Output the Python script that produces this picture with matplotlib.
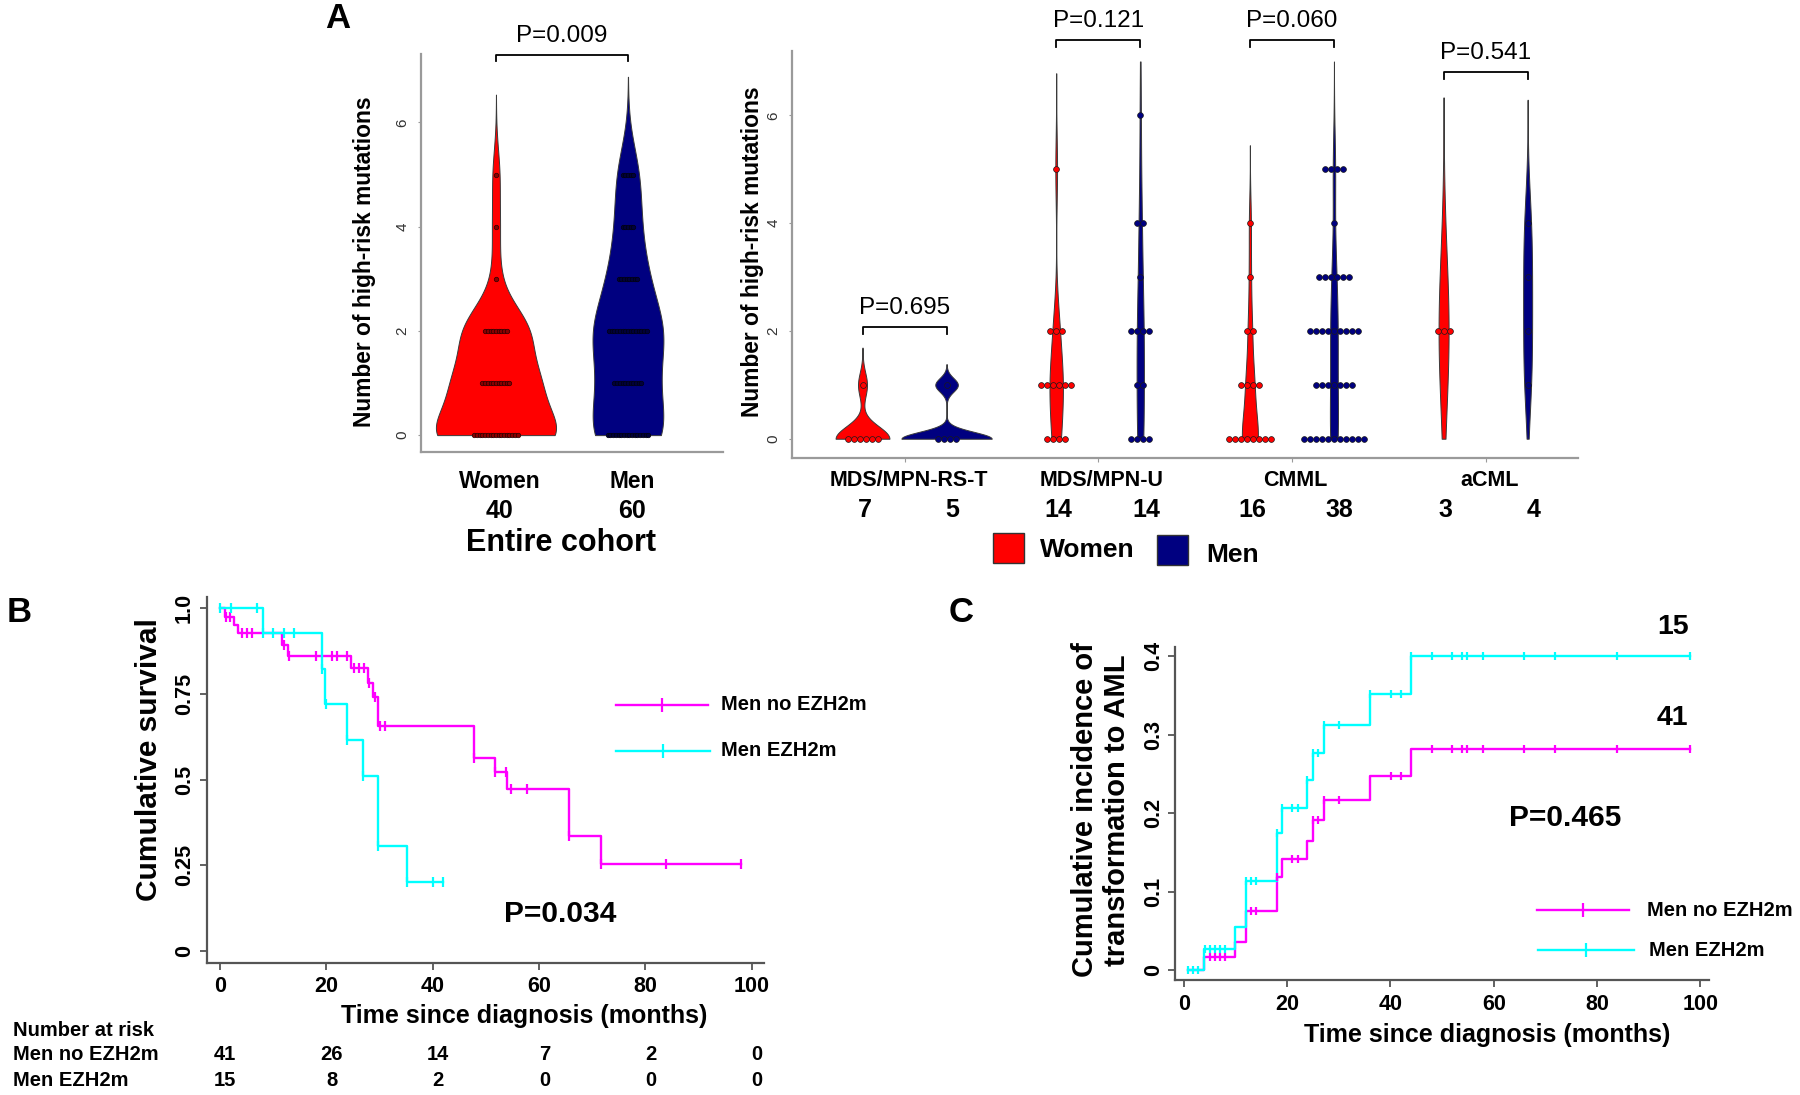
import numpy as np
import matplotlib
matplotlib.use("Agg")
import matplotlib.pyplot as plt
import matplotlib.transforms as mtransforms
from matplotlib.patches import Rectangle
from matplotlib.lines import Line2D

plt.rcParams['font.family'] = ['Liberation Sans', 'DejaVu Sans']

# ---- A: number of high-risk mutations, counts per level ----
mut_levels = [0, 1, 2, 3, 4, 5, 6]
cohort_women = [17, 11, 9, 1, 1, 1, 0]
cohort_men = [16, 11, 15, 8, 5, 5, 0]
cohort_labels = ['Women', 'Men']
cohort_n = [40, 60]
p_cohort = 'P=0.009'

subtypes = ['MDS/MPN-RS-T', 'MDS/MPN-U', 'CMML', 'aCML']
sub_women = [[6, 1, 0, 0, 0, 0, 0],
             [4, 6, 3, 0, 0, 1, 0],
             [8, 4, 2, 1, 1, 0, 0],
             [0, 0, 3, 0, 0, 0, 0]]
sub_men = [[4, 1, 0, 0, 0, 0, 0],
           [4, 2, 4, 1, 2, 0, 1],
           [11, 7, 9, 6, 1, 4, 0],
           [0, 1, 1, 1, 1, 0, 0]]
sub_n_women = [7, 14, 16, 3]
sub_n_men = [5, 14, 38, 4]
p_sub = ['P=0.695', 'P=0.121', 'P=0.060', 'P=0.541']

# ---- B: overall survival (months) ----
os_no_t = [1.0, 2.7, 3.4, 11.6, 12.7, 24.7, 27.9, 28.8, 29.8, 47.7, 51.7, 53.9, 65.7, 71.7]
os_no_s = [0.976, 0.951, 0.927, 0.893, 0.861, 0.825, 0.783, 0.740, 0.657, 0.564, 0.521, 0.471, 0.336, 0.252]
os_no_cens = [1.1, 1.9, 4.1, 5.1, 6.0, 12.1, 13.0, 18.0, 21.0, 22.0, 23.9, 25.2, 26.1, 27.0,
              28.0, 29.1, 30.0, 31.0, 47.7, 51.7, 53.8, 54.8, 57.8, 65.7, 71.7, 83.8, 98.0]
os_ezh_t = [8.0, 19.1, 19.7, 23.9, 26.8, 29.8, 35.1]
os_ezh_s = [0.927, 0.822, 0.720, 0.615, 0.510, 0.307, 0.202]
os_ezh_cens = [0.0, 2.0, 6.9, 8.1, 10.0, 12.1, 14.0, 19.1, 19.9, 23.9, 26.8, 29.8, 35.1, 40.0, 42.0]
risk_times = [0, 20, 40, 60, 80, 100]
risk_no = [41, 26, 14, 7, 2, 0]
risk_ezh = [15, 8, 2, 0, 0, 0]
p_os = 'P=0.034'

# ---- C: cumulative incidence of AML transformation ----
cif_start = 0.8
cif_t = [3.9, 9.9, 12.0, 18.1, 18.9, 23.9, 24.9, 27.1, 36.0, 43.9]
cif_no_v = [0.017, 0.036, 0.075, 0.118, 0.141, 0.165, 0.191, 0.217, 0.247, 0.282]
cif_ezh_v = [0.027, 0.055, 0.113, 0.175, 0.207, 0.242, 0.277, 0.312, 0.352, 0.400]
cif_no_cens = [5.0, 6.0, 7.0, 7.9, 12.9, 14.0, 18.1, 20.9, 22.0, 24.9, 26.0, 27.1, 30.1, 40.1,
               42.1, 48.1, 52.0, 53.8, 54.8, 58.0, 65.9, 71.9, 83.9, 98.0]
cif_ezh_cens = [0.8, 1.8, 2.8, 4.1, 5.0, 6.0, 7.0, 7.9, 12.0, 12.9, 14.0, 18.1, 18.9, 20.9, 22.0,
                23.9, 24.9, 26.0, 27.1, 30.1, 36.0, 40.1, 42.1, 43.9, 48.1, 52.0, 53.8, 54.8,
                58.0, 65.9, 71.9, 83.9, 98.0]
cif_n = [41, 15]
p_cif = 'P=0.465'

groups = ['Men no EZH2m', 'Men EZH2m']

RED, NAVY = '#ff0000', '#000080'
MAG, CYAN = '#ff00ff', '#00ffff'

W, H = 1800, 1095
fig = plt.figure(figsize=(W / 100, H / 100), dpi=100)


def place(x0, y0, x1, y1):
    return fig.add_axes([x0 / W, 1 - y1 / H, (x1 - x0) / W, (y1 - y0) / H])


def fy(y):
    return 1 - y / H


def bw_nrd0(x):
    hi = np.std(x, ddof=1)
    q25, q75 = np.percentile(x, [25, 75])
    lo = min(hi, (q75 - q25) / 1.34)
    if lo == 0:
        lo = hi or abs(x[0]) or 1.0
    return 0.9 * lo * len(x) ** -0.2


def density(x, adjust=1.0, top=7.0):
    bw = bw_nrd0(x) * adjust
    y = np.linspace(0, min(x.max() + 3 * bw, top), 400)
    d = np.exp(-0.5 * ((y[:, None] - x[None, :]) / bw) ** 2).sum(1)
    return y, d / (len(x) * bw * np.sqrt(2 * np.pi))


def expand(counts):
    return np.repeat(mut_levels, counts).astype(float)


def draw_violins(ax, xs, samples, colors, max_half, dot_px, dot_d, faces, edges, adjust=None):
    adjust = adjust or [1.0] * len(xs)
    dens = [density(s, a) for s, a in zip(samples, adjust)]
    dmax = max(d.max() for _, d in dens)
    unit_px = ax.get_position().width * W / np.diff(ax.get_xlim())[0]
    step = dot_px / unit_px
    for x, s, (y, d), c, fc, ec in zip(xs, samples, dens, colors, faces, edges):
        half = d / dmax * max_half
        ax.fill_betweenx(y, x - half, x + half, facecolor=c, edgecolor='#3a3a3a', lw=0.7, zorder=2)
        levels, counts = np.unique(s, return_counts=True)
        for lev, cnt in zip(levels, counts):
            dx = (np.arange(cnt) - (cnt - 1) / 2) * step
            ax.scatter(x + dx, np.full(cnt, lev), s=(dot_d * 0.72) ** 2, facecolor=fc,
                       edgecolor=ec, linewidth=0.5, zorder=3)


def bracket(ax, x1, x2, y, text, leg=0.13):
    ax.plot([x1, x1, x2, x2], [y - leg, y, y, y - leg], color='black', lw=1.3, clip_on=False)
    ax.text((x1 + x2) / 2, y + 0.36, text, ha='center', va='center', fontsize=17.5, clip_on=False)


def style_a(ax, label_xy):
    for sp in ('top', 'right'):
        ax.spines[sp].set_visible(False)
    for sp in ('left', 'bottom'):
        ax.spines[sp].set_color('#9a9a9a')
        ax.spines[sp].set_linewidth(1.6)
    ax.set_yticks([0, 2, 4, 6])
    ax.tick_params(axis='y', length=2, color='#9a9a9a', labelsize=11, labelcolor='#333333',
                   labelrotation=90, pad=6.5)
    for lab in ax.get_yticklabels():
        lab.set_va('center')
    ax.set_ylabel('Number of high-risk mutations', fontsize=16.4, fontweight='bold')
    ax.yaxis.set_label_coords(label_xy[0] / W, fy(label_xy[1]), transform=fig.transFigure)
    ax.yaxis.label.set_va('center')


# ---------------- Panel A, entire cohort ----------------
axL = place(421, 53.6, 723, 451.8)
axL.set_xlim(0.432, 2.72)
axL.set_ylim(-0.32, 7.32)
cohort_x = [1, 2]
draw_violins(axL, cohort_x, [expand(cohort_women), expand(cohort_men)], [RED, NAVY],
             0.455, 2.7, 4.5, ['#8a0000', '#00003a'], ['#2a0000', '#000010'])
style_a(axL, (364, 262))
axL.set_xticks([])
bracket(axL, cohort_x[0], cohort_x[1], 7.29, p_cohort, leg=0.11)
tL = mtransforms.blended_transform_factory(axL.transData, fig.transFigure)
for x, lab, n in zip(cohort_x, cohort_labels, cohort_n):
    axL.text(x + 0.03, fy(482), lab, transform=tL, ha='center', va='center',
             fontsize=16.4, fontweight='bold')
    axL.text(x + 0.03, fy(511), str(n), transform=tL, ha='center', va='center',
             fontsize=18, fontweight='bold')
fig.text(561 / W, fy(543), 'Entire cohort', ha='center', va='center', fontsize=22, fontweight='bold')

# ---------------- Panel A, by subtype ----------------
axR = place(792, 50.7, 1578, 457.6)
axR.set_xlim(-0.581, 3.477)
axR.set_ylim(-0.35, 7.2)
pair_x = np.arange(len(subtypes))
dodge = 0.217
xs, samples, cols, adj = [], [], [], []
for i, px in enumerate(pair_x):
    xs += [px - dodge, px + dodge]
    samples += [expand(sub_women[i]), expand(sub_men[i])]
    cols += [RED, NAVY]
    adj += [1.0, 0.44 if i == 0 else 1.0]
draw_violins(axR, xs, samples, cols, 0.233, 6.0, 5.8, cols, ['#1a1a1a'] * len(xs), adj)
style_a(axR, (753, 252))
axR.set_xticks(pair_x, [''] * len(pair_x))
axR.tick_params(axis='x', length=3, color='#9a9a9a')
bracket_y = [2.075, 7.4, 7.4, 6.8]
for px, p, by in zip(pair_x, p_sub, bracket_y):
    bracket(axR, px - dodge, px + dodge, by, p)
tR = mtransforms.blended_transform_factory(axR.transData, fig.transFigure)
for px, name, nw, nm in zip(pair_x, subtypes, sub_n_women, sub_n_men):
    axR.text(px + 0.02, fy(480), name, transform=tR, ha='center', va='center', fontsize=15.5,
             fontweight='bold')
    axR.text(px - dodge + 0.01, fy(510), str(nw), transform=tR, ha='center', va='center',
             fontsize=18, fontweight='bold')
    axR.text(px + dodge + 0.03, fy(510), str(nm), transform=tR, ha='center', va='center',
             fontsize=18, fontweight='bold')

for (x0, y0, c, lab, tx, ty) in [(993, 533, RED, 'Women', 1040, 550), (1157, 535, NAVY, 'Men', 1206, 555)]:
    fig.add_artist(Rectangle((x0 / W, fy(y0 + 30)), 31 / W, 30 / H, facecolor=c,
                             edgecolor='#333333', lw=1, transform=fig.transFigure))
    fig.text(tx / W, fy(ty), lab, ha='left', va='center', fontsize=19, fontweight='bold')


# ---------------- Panels B and C ----------------
def style_km(ax, xt, yt, ylabs, ypad, xpad):
    for sp in ('top', 'right'):
        ax.spines[sp].set_visible(False)
    for sp in ('left', 'bottom'):
        ax.spines[sp].set_color('#555555')
        ax.spines[sp].set_linewidth(1.6)
    ax.set_xticks(xt, [str(t) for t in xt], fontweight='bold', fontsize=15.5)
    ax.set_yticks(yt, ylabs, fontweight='bold', fontsize=15.5, rotation=90, va='center')
    ax.tick_params(axis='both', length=5, width=1.3, color='#555555')
    ax.tick_params(axis='y', pad=ypad)
    ax.tick_params(axis='x', pad=xpad)


def step_curve(ax, start, start_val, t, v, cens, color, msize):
    t = np.asarray(t)
    vals = np.r_[start_val, v]
    tt = np.r_[start, t, max(cens)]
    ax.step(tt, np.r_[vals, v[-1]], where='post', color=color, lw=1.7, zorder=3)
    cv = vals[np.searchsorted(t, cens, side='right')]
    ax.plot(cens, cv, ls='none', marker='|', ms=msize, mew=1.6, color=color, zorder=4)


def legend_entry(x0, x1, y, color, label, tx):
    fig.add_artist(Line2D([x0 / W, x1 / W], [fy(y), fy(y)], color=color, lw=1.7))
    fig.add_artist(Line2D([(x0 + x1) / 2 / W], [fy(y)], marker='|', ms=10, mew=1.6, color=color))
    fig.text(tx / W, fy(y), label, fontsize=14.5, fontweight='bold', ha='left', va='center')


axB = place(207.3, 596.7, 764, 962.7)
axB.set_xlim(-2.39, 102.3)
axB.set_ylim(-0.035, 1.034)
step_curve(axB, 0, 1.0, os_no_t, os_no_s, os_no_cens, MAG, 7)
step_curve(axB, 0, 1.0, os_ezh_t, os_ezh_s, os_ezh_cens, CYAN, 7)
style_km(axB, risk_times, [0, 0.25, 0.5, 0.75, 1.0], ['0', '0.25', '0.5', '0.75', '1.0'], 4, 4.5)
axB.set_ylabel('Cumulative survival', fontsize=21.5, fontweight='bold')
axB.yaxis.set_label_coords(149 / W, fy(760), transform=fig.transFigure)
axB.yaxis.label.set_va('center')
axB.set_xlabel('Time since diagnosis (months)', fontsize=18, fontweight='bold')
axB.xaxis.set_label_coords(524 / W, fy(1016), transform=fig.transFigure)
axB.xaxis.label.set_va('center')
axB.text(63.9, 0.107, p_os, ha='center', va='center', fontsize=21.5, fontweight='bold')
legend_entry(616, 708, 705, MAG, groups[0], 721)
legend_entry(616, 710, 751, CYAN, groups[1], 721)

tB = mtransforms.blended_transform_factory(axB.transData, fig.transFigure)
fig.text(13 / W, fy(1031), 'Number at risk', fontsize=14.5, fontweight='bold', va='center')
for row_y, name, counts in [(1055, groups[0], risk_no), (1080, groups[1], risk_ezh)]:
    fig.text(13 / W, fy(row_y), name, fontsize=14.5, fontweight='bold', va='center')
    for t, n in zip(risk_times, counts):
        axB.text(t + 1, fy(row_y), str(n), transform=tB, ha='center', va='center',
                 fontsize=14.5, fontweight='bold')

axC = place(1175, 646.7, 1709, 980)
axC.set_xlim(-1.74, 101.7)
axC.set_ylim(-0.0127, 0.412)
step_curve(axC, cif_start, 0.0, cif_t, cif_no_v, cif_no_cens, MAG, 5.5)
step_curve(axC, cif_start, 0.0, cif_t, cif_ezh_v, cif_ezh_cens, CYAN, 5.5)
style_km(axC, risk_times, [0, 0.1, 0.2, 0.3, 0.4], ['0', '0.1', '0.2', '0.3', '0.4'], 3, 5)
axC.set_ylabel('Cumulative incidence of\ntransformation to AML', fontsize=21, fontweight='bold',
               linespacing=1.2)
axC.yaxis.set_label_coords(1101 / W, fy(810), transform=fig.transFigure)
axC.yaxis.label.set_va('center')
axC.set_xlabel('Time since diagnosis (months)', fontsize=18, fontweight='bold')
axC.xaxis.set_label_coords(1487 / W, fy(1035), transform=fig.transFigure)
axC.xaxis.label.set_va('center')
axC.text(73.8, 0.194, p_cif, ha='center', va='center', fontsize=21.5, fontweight='bold')
axC.text(94.8, cif_ezh_v[-1] + 0.037, str(cif_n[1]), ha='center', va='center', fontsize=20.5,
         fontweight='bold', clip_on=False)
axC.text(94.6, cif_no_v[-1] + 0.039, str(cif_n[0]), ha='center', va='center', fontsize=20.5,
         fontweight='bold', clip_on=False)
legend_entry(1537, 1629, 910, MAG, groups[0], 1647)
legend_entry(1538, 1634, 950, CYAN, groups[1], 1649)

for letter, x, y in [('A', 338, 19), ('B', 19, 612), ('C', 961, 612)]:
    fig.text(x / W, fy(y), letter, fontsize=25, fontweight='bold', ha='center', va='center')

fig.savefig('out.png', dpi=100)
